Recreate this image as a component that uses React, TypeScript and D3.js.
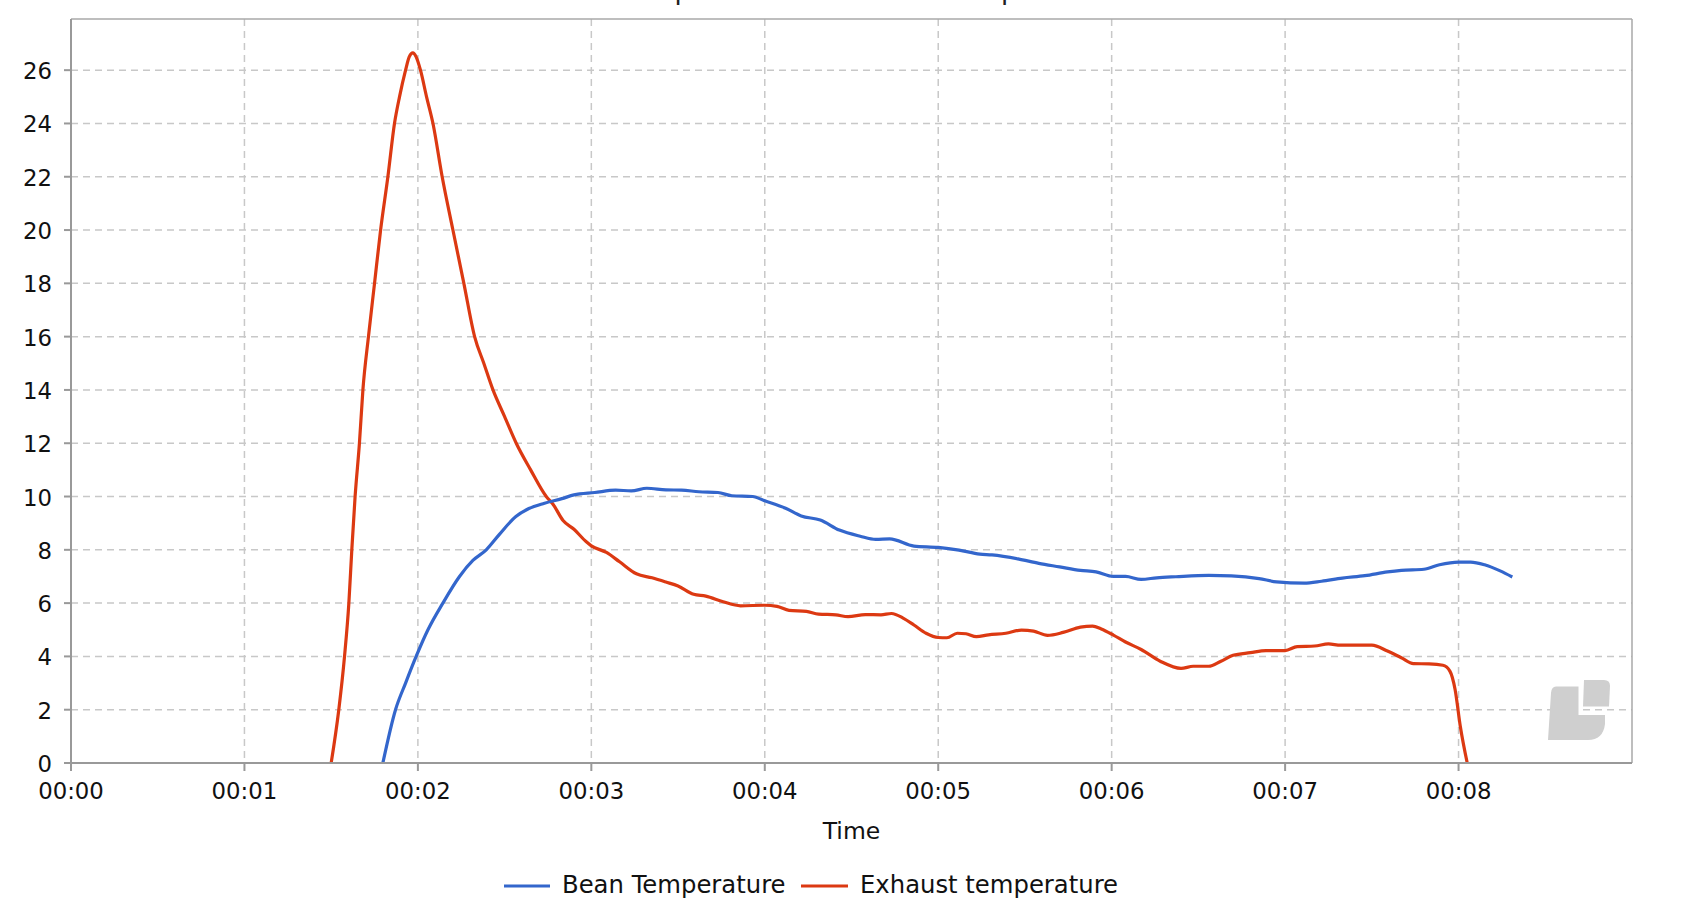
import React from "react";
import * as d3 from "d3";

// Time in minutes, value = rate
const beanTimes = [1.798, 1.871, 1.929, 1.99, 2.058, 2.144, 2.24, 2.317, 2.394, 2.47, 2.565, 2.64, 2.73, 2.83, 2.9, 3.02, 3.14, 3.23, 3.32, 3.43, 3.52, 3.62, 3.73, 3.81, 3.93, 4.0, 4.12, 4.21, 4.32, 4.43, 4.55, 4.64, 4.72, 4.86, 5.0, 5.12, 5.24, 5.31, 5.46, 5.58, 5.7, 5.82, 5.91, 6.01, 6.08, 6.17, 6.26, 6.37, 6.56, 6.69, 6.85, 6.95, 7.11, 7.21, 7.33, 7.46, 7.59, 7.67, 7.8, 7.89, 8.0, 8.07, 8.15, 8.24, 8.31];
const beanValues = [0, 2, 3, 4, 5, 6, 7, 7.6, 8, 8.58, 9.25, 9.55, 9.75, 9.92, 10.06, 10.15, 10.24, 10.21, 10.31, 10.25, 10.24, 10.18, 10.15, 10.03, 10.0, 9.84, 9.56, 9.27, 9.12, 8.74, 8.51, 8.39, 8.41, 8.14, 8.09, 7.99, 7.84, 7.81, 7.66, 7.49, 7.36, 7.23, 7.17, 7.0, 7.0, 6.89, 6.95, 6.99, 7.04, 7.02, 6.92, 6.8, 6.75, 6.82, 6.94, 7.03, 7.17, 7.23, 7.27, 7.44, 7.54, 7.54, 7.44, 7.21, 6.98];

const exhaustTimes = [1.5, 1.544, 1.577, 1.602, 1.619, 1.638, 1.663, 1.683, 1.715, 1.75, 1.785, 1.827, 1.865, 1.894, 1.929, 1.95, 1.971, 1.99, 2.015, 2.05, 2.087, 2.14, 2.202, 2.265, 2.327, 2.38, 2.433, 2.5, 2.567, 2.65, 2.74, 2.78, 2.837, 2.9, 2.971, 3.0, 3.087, 3.163, 3.26, 3.35, 3.43, 3.5, 3.59, 3.66, 3.76, 3.86, 4.0, 4.07, 4.14, 4.24, 4.31, 4.41, 4.48, 4.58, 4.67, 4.73, 4.8, 4.86, 4.93, 5.0, 5.05, 5.11, 5.16, 5.22, 5.29, 5.39, 5.48, 5.55, 5.63, 5.72, 5.82, 5.89, 5.94, 6.01, 6.08, 6.17, 6.28, 6.4, 6.47, 6.56, 6.63, 6.7, 6.8, 6.89, 7.0, 7.07, 7.17, 7.25, 7.32, 7.41, 7.5, 7.59, 7.67, 7.74, 7.83, 7.91, 7.95, 7.98, 8.01, 8.05];
const exhaustValues = [0, 2, 4, 6, 8, 10, 12, 14, 16, 18, 20, 22, 24, 25, 26, 26.5, 26.65, 26.5, 26, 25, 24, 22, 20, 18, 16, 15, 14, 13, 12, 11, 10, 9.7, 9.1, 8.77, 8.3, 8.15, 7.9, 7.55, 7.1, 6.95, 6.79, 6.64, 6.33, 6.26, 6.05, 5.9, 5.92, 5.88, 5.73, 5.69, 5.59, 5.56, 5.49, 5.57, 5.56, 5.61, 5.43, 5.18, 4.87, 4.71, 4.7, 4.87, 4.85, 4.74, 4.81, 4.87, 4.99, 4.95, 4.79, 4.9, 5.1, 5.14, 5.03, 4.8, 4.54, 4.26, 3.82, 3.55, 3.63, 3.63, 3.82, 4.04, 4.14, 4.22, 4.22, 4.37, 4.39, 4.47, 4.42, 4.42, 4.42, 4.2, 3.95, 3.73, 3.72, 3.67, 3.45, 2.76, 1.38, 0];

const xTicks = [0, 1, 2, 3, 4, 5, 6, 7, 8];
const xTickLabels = ["00:00", "00:01", "00:02", "00:03", "00:04", "00:05", "00:06", "00:07", "00:08"];
const yTicks = [0, 2, 4, 6, 8, 10, 12, 14, 16, 18, 20, 22, 24, 26];
const seriesNames = ["Bean Temperature", "Exhaust temperature"];
const seriesColors = ["#3366cc", "#dc3912"];
const titleText = "Bean Temperature vs Exhaust temperature";
const xAxisTitle = "Time";

const W = 1692;
const H = 920;
const L = 71, R = 1632, T = 19, B = 763;
const FONT = "'DejaVu Sans', Verdana, sans-serif";

export default function App() {
  const x = d3.scaleLinear().domain([0, 9]).range([L, R]);
  const y = d3.scaleLinear().domain([0, 27.92]).range([B, T]);
  const line = d3
    .line<[number, number]>()
    .x((d) => x(d[0]))
    .y((d) => y(d[1]))
    .curve(d3.curveMonotoneX);
  const bean: [number, number][] = beanTimes.map((t, i) => [t, beanValues[i]]);
  const exhaust: [number, number][] = exhaustTimes.map((t, i) => [t, exhaustValues[i]]);

  return (
    <svg
      width={W}
      height={H}
      style={{ position: "absolute", left: 0, top: 0, background: "#fff" }}
      fontFamily={FONT}
    >
      <rect x={0} y={0} width={W} height={H} fill="#fff" />
      <text x={830} y={-1} fontSize={26.4} textAnchor="middle" fill="#222">
        {titleText}
      </text>
      {/* grid */}
      {xTicks.filter((t) => t > 0).map((t) => (
        <line key={"gx" + t} x1={x(t)} x2={x(t)} y1={T} y2={B} stroke="#c8c8c8" strokeWidth={1.5} strokeDasharray="7,5" />
      ))}
      {yTicks.filter((v) => v > 0).map((v) => (
        <line key={"gy" + v} x1={L} x2={R} y1={y(v)} y2={y(v)} stroke="#c8c8c8" strokeWidth={1.5} strokeDasharray="7,5" />
      ))}
      {/* border */}
      <line x1={L} x2={R} y1={T} y2={T} stroke="#a8a8a8" strokeWidth={1.5} />
      <line x1={R} x2={R} y1={T} y2={B} stroke="#a8a8a8" strokeWidth={1.5} />
      {/* watermark */}
      <g fill="#cfcfcf">
        <path d="M1556,686.5 L1578.5,686.5 L1578.5,715 L1605,715 L1605,724 Q1603,740 1588,740 L1548,740 L1551,693 Q1551.5,686.5 1556,686.5 Z" />
        <path d="M1584,680 L1604,680 Q1610,680 1610,686 L1609,706.5 L1583,706.5 Z" />
      </g>
      {/* series */}
      <path d={line(exhaust) || ""} fill="none" stroke={seriesColors[1]} strokeWidth={3.2} strokeLinejoin="round" />
      <path d={line(bean) || ""} fill="none" stroke={seriesColors[0]} strokeWidth={3.2} strokeLinejoin="round" />
      {/* axes */}
      <line x1={L} x2={L} y1={T} y2={B} stroke="#999" strokeWidth={2} />
      <line x1={L} x2={R} y1={B} y2={B} stroke="#999" strokeWidth={2} />
      {xTicks.map((t, i) => (
        <g key={"xt" + t}>
          <line x1={x(t)} x2={x(t)} y1={B} y2={B + 8} stroke="#999" strokeWidth={2} />
          <text x={x(t)} y={799} fontSize={22.8} textAnchor="middle" fill="#111">
            {xTickLabels[i]}
          </text>
        </g>
      ))}
      {yTicks.map((v) => (
        <g key={"yt" + v}>
          <line x1={L - 7} x2={L} y1={y(v)} y2={y(v)} stroke="#999" strokeWidth={2} />
          <text x={52} y={y(v) + 9} fontSize={22.8} textAnchor="end" fill="#111">
            {v}
          </text>
        </g>
      ))}
      <text x={(L + R) / 2} y={839} fontSize={23.5} textAnchor="middle" fill="#111">
        {xAxisTitle}
      </text>
      {/* legend */}
      <line x1={504} x2={550} y1={886} y2={886} stroke={seriesColors[0]} strokeWidth={3.2} />
      <text x={562} y={893} fontSize={24.3} fill="#111">{seriesNames[0]}</text>
      <line x1={801} x2={848} y1={886} y2={886} stroke={seriesColors[1]} strokeWidth={3.2} />
      <text x={860} y={893} fontSize={24.3} fill="#111">{seriesNames[1]}</text>
    </svg>
  );
}
